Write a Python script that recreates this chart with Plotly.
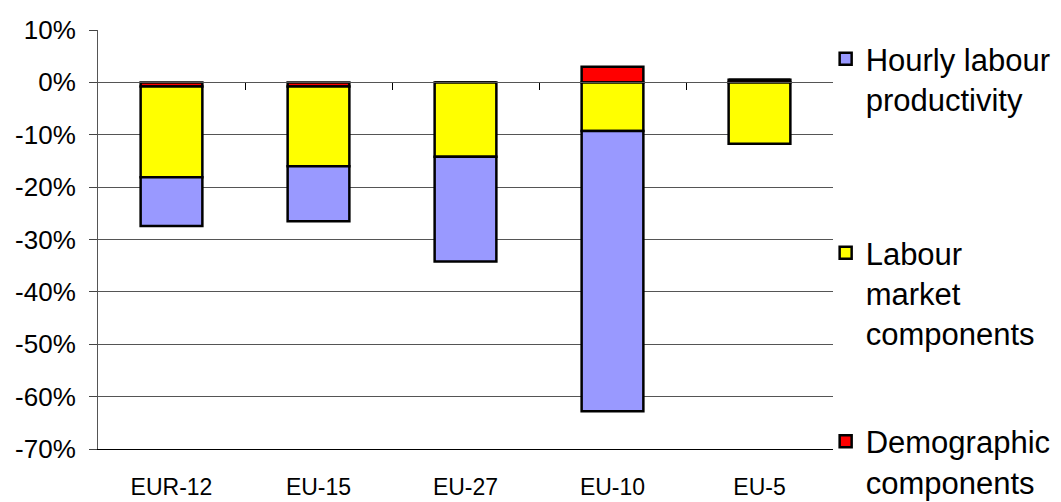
import plotly.graph_objects as go

categories = ["EUR-12", "EU-15", "EU-27", "EU-10", "EU-5"]

# contributions in percentage points
demographic = [-0.8, -0.8, 0.0, 3.0, 0.5]
labour_market = [-17.3, -15.2, -14.2, -9.3, -11.7]
productivity = [-9.3, -10.5, -20.0, -53.5, 0.0]

y_ticks = [10, 0, -10, -20, -30, -40, -50, -60, -70]
y_tick_text = ["10%", "0%", "-10%", "-20%", "-30%", "-40%", "-50%", "-60%", "-70%"]

fig = go.Figure()

# stacking order: first trace sits next to zero
fig.add_trace(go.Bar(
    x=categories, y=demographic, name="Demographic<br>components",
    marker=dict(color="#FF0000", line=dict(color="black", width=2.5)),
    legend="legend3",
))
fig.add_trace(go.Bar(
    x=categories, y=labour_market, name="Labour<br>market<br>components",
    marker=dict(color="#FFFF00", line=dict(color="black", width=2.5)),
    legend="legend2",
))
fig.add_trace(go.Bar(
    x=categories, y=productivity, name="Hourly labour<br>productivity",
    marker=dict(color="#9999FF", line=dict(color="black", width=2.5)),
    legend="legend",
))

# invisible helper so the zero-line axis with category ticks is drawn
fig.add_trace(go.Scatter(
    x=[-0.5, 4.5], y=[0, 0], xaxis="x2", mode="lines",
    line=dict(width=0), showlegend=False, hoverinfo="skip",
))

legend_font = dict(family="Liberation Sans, Arial, sans-serif", size=31, color="black")
leg_x = 0.990

# page body has an 8px margin, so the figure is a bit smaller than the window
fig.update_layout(
    width=1053,
    height=494,
    margin=dict(l=90, r=228, t=22, b=53, autoexpand=False),
    paper_bgcolor="white",
    plot_bgcolor="white",
    barmode="relative",
    bargap=0.58,
    font=dict(family="Liberation Sans, Arial, sans-serif", color="black"),
    legend=dict(x=leg_x, y=0.995, xanchor="left", yanchor="top", font=legend_font,
                valign="top", bgcolor="rgba(0,0,0,0)"),
    legend2=dict(x=leg_x, y=0.532, xanchor="left", yanchor="top", font=legend_font,
                 valign="top", bgcolor="rgba(0,0,0,0)"),
    legend3=dict(x=leg_x, y=0.082, xanchor="left", yanchor="top", font=legend_font,
                 valign="top", bgcolor="rgba(0,0,0,0)"),
    xaxis=dict(
        type="category",
        range=[-0.5, 4.5],
        showline=True, linecolor="black", linewidth=1,
        ticks="", showgrid=False,
        tickfont=dict(size=23),
        ticklabelstandoff=17,
    ),
    xaxis2=dict(
        overlaying="x",
        anchor="free",
        position=0.875,
        range=[-0.5, 4.5],
        tickmode="array",
        tickvals=[0.5, 1.5, 2.5, 3.5],
        ticks="outside", ticklen=7, tickcolor="black", tickwidth=1,
        showticklabels=False,
        showline=True, linecolor="#555555", linewidth=1,
        showgrid=False, zeroline=False,
    ),
    yaxis=dict(
        range=[-70, 10],
        tickmode="array",
        tickvals=y_ticks,
        ticktext=y_tick_text,
        ticks="outside", ticklen=8, tickcolor="#444444",
        showgrid=True, gridcolor="#555555", gridwidth=1,
        zeroline=False,
        showline=True, linecolor="#555555", linewidth=1,
        tickfont=dict(size=26),
        ticklabelstandoff=8,
    ),
)

fig.write_html("out.html")
